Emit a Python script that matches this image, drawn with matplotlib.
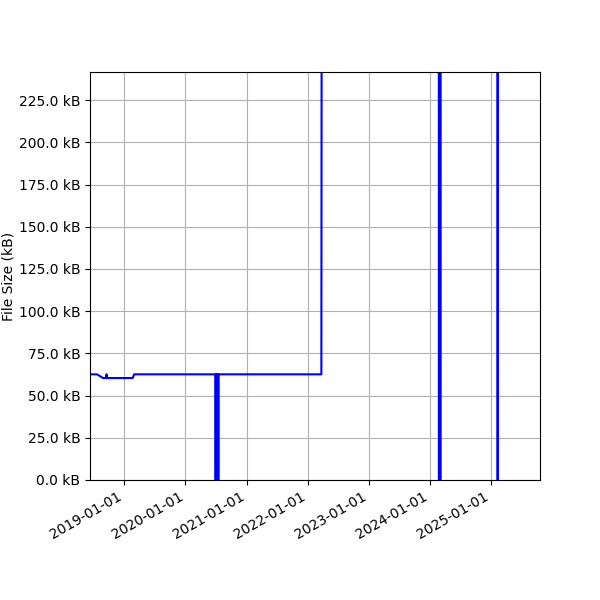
import numpy as np
import matplotlib
matplotlib.use("Agg")
from matplotlib import pyplot as plt
import matplotlib.dates as mdates
from matplotlib.ticker import FuncFormatter, MultipleLocator

# file size history (kB)
dates = ["2018-06-08", "2018-07-22", "2018-08-27", "2018-09-14", "2018-09-17",
         "2018-09-20", "2019-02-20", "2019-03-01",
         "2020-06-29", "2020-06-30", "2020-07-01", "2020-07-03", "2020-07-04",
         "2020-07-05", "2020-07-07", "2020-07-08", "2020-07-09", "2020-07-11",
         "2020-07-12", "2020-07-13", "2020-07-15", "2020-07-16", "2020-07-17",
         "2022-03-24", "2022-03-26",
         "2024-02-24", "2024-02-25", "2024-02-26", "2024-02-28", "2024-02-29",
         "2024-03-01", "2024-03-03", "2024-03-04", "2024-03-05",
         "2025-02-09", "2025-02-10", "2025-02-11",
         "2025-10-21"]
sizes_kb = [62.6, 62.6, 60.4, 60.4, 62.6,
            60.4, 60.4, 62.6,
            62.6, 0.0, 62.6, 62.6, 0.0,
            62.6, 62.6, 0.0, 62.6, 62.6,
            0.0, 62.6, 62.6, 0.0, 62.6,
            62.6, 320.0,
            320.0, 0.0, 320.0, 320.0, 0.0,
            320.0, 320.0, 0.0, 320.0,
            320.0, 0.0, 320.0,
            320.0]

x = np.array(dates, dtype="datetime64[D]")

fig, ax = plt.subplots(figsize=(6, 6), dpi=100)
fig.subplots_adjust(left=0.15, right=0.9, top=0.88, bottom=0.2)
ax.plot(x, sizes_kb, color="blue")
ax.set_xlim(np.datetime64("2018-06-10"), np.datetime64("2025-10-21"))
ax.set_ylim(0, 241.7)
ax.yaxis.set_major_locator(MultipleLocator(25))
ax.yaxis.set_major_formatter(FuncFormatter(lambda v, p: "%.1f kB" % v))
ax.xaxis.set_major_locator(mdates.YearLocator())
ax.xaxis.set_major_formatter(mdates.DateFormatter("%Y-%m-%d"))
ax.set_ylabel("File Size (kB)", labelpad=2)
ax.grid(True)
for lbl in ax.get_xticklabels():
    lbl.set_rotation(30)
    lbl.set_ha("right")
fig.savefig("out.png")
